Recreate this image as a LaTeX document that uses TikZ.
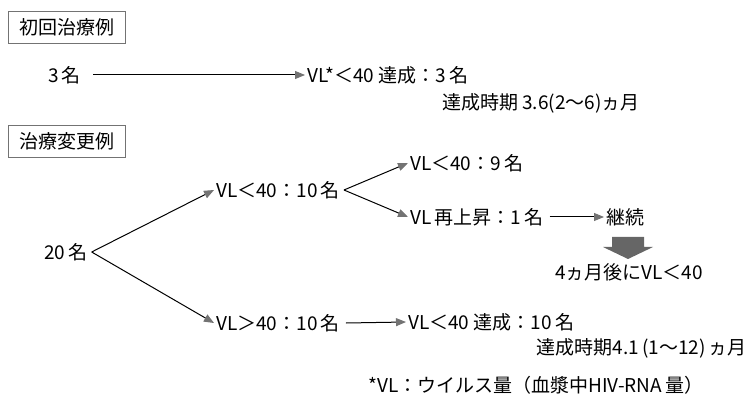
\documentclass[tikz,border=0pt]{standalone}
\usepackage{fontspec}
\setmainfont{Noto Sans CJK JP}
\usetikzlibrary{arrows.meta}
\begin{document}
\begin{tikzpicture}[x=1pt,y=-1pt,
  every node/.style={font=\fontsize{19}{22}\selectfont, inner sep=2pt},
  lbl/.style={anchor=west},
  hdr/.style={draw=black!55, line width=0.7pt, minimum width=117pt, minimum height=32pt, inner sep=0pt},
  arr/.style={line width=1pt, -{Triangle[length=10pt,width=8pt,fill=black!55,color=black!55]}},
]
\useasboundingbox (0,0) rectangle (749,395);
% headers
\node[hdr] (h1) at (66.5,27) {初回治療例};
\node[hdr] (h2) at (66.5,141.5) {治療変更例};
% first-line
\node[lbl] (n3) at (46,75) {3\,名};
\node[lbl] (a1) at (305,75) {VL*＜40 達成：3\,名};
\node[lbl] (p1) at (440,103) {達成時期 3.6(2～6)ヵ月};
\draw[arr] ([xshift=10pt]n3.east) -- (a1.west);
% second part
\node[lbl] (n20) at (42,252) {20\,名};
\node[lbl] (u1) at (214,190) {VL＜40：10\,名};
\node[lbl] (d1) at (214,323) {VL＞40：10\,名};
\node[lbl] (u2) at (408,163) {VL＜40：9\,名};
\node[lbl] (u3) at (408,217) {VL\,再上昇：1\,名};
\node[lbl] (c1) at (604,217) {継続};
\node[lbl] (c2) at (553,272) {4ヵ月後にVL＜40};
\node[lbl] (d2) at (406,322) {VL＜40 達成：10\,名};
\node[anchor=east] (p2) at (749,348) {達成時期4.1\,(1～12)\,ヵ月};
\node[lbl] (fn) at (366,385) {*VL：ウイルス量（血漿中HIV-RNA\,量）};
\coordinate (b0) at ([xshift=2pt]n20.east);
\coordinate (b1) at ([xshift=2pt]u1.east);
\draw[arr] (b0) -- (u1.west);
\draw[arr] (b0) -- (d1.west);
\draw[arr] (b1) -- (u2.west);
\draw[arr] (b1) -- (u3.west);
\draw[arr] ([xshift=4pt]u3.east) -- (c1.west);
\draw[arr] ([xshift=4pt]d1.east) -- (d2.west);
% big down arrow
\fill[black!60] (612,237) -- (644,237) -- (644,247) -- (653,247) -- (628,259) -- (603,247) -- (612,247) -- cycle;
\end{tikzpicture}
\end{document}
